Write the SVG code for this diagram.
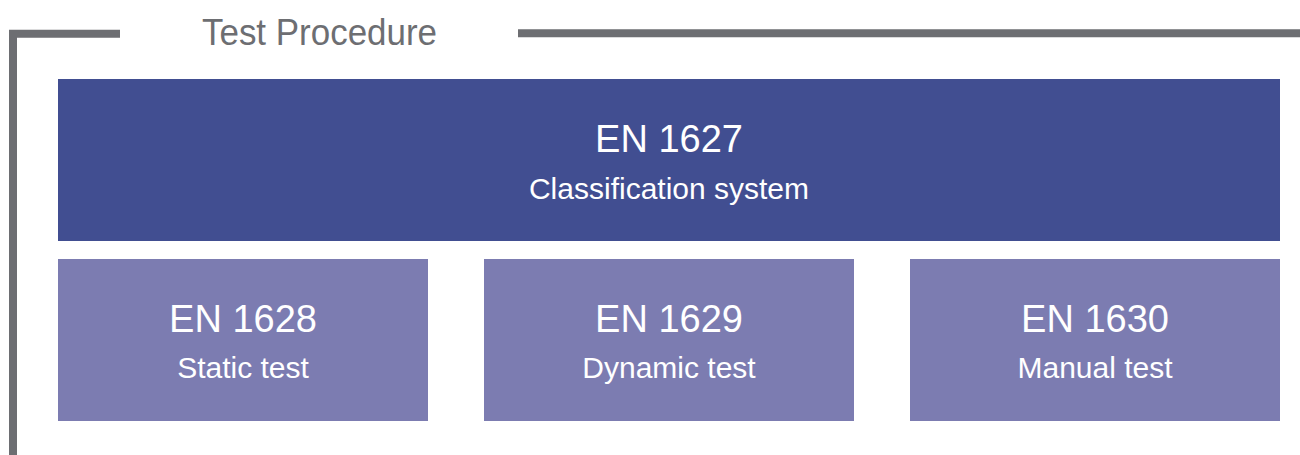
<svg xmlns="http://www.w3.org/2000/svg" width="1300" height="455" viewBox="0 0 1300 455">
  <style>
    .frame { fill: none; stroke: #6D6E72; stroke-width: 8; stroke-linejoin: miter; stroke-linecap: butt; }
    .main { fill: #414E91; }
    .sub { fill: #7C7CB1; }
    .t { font-family: "Liberation Sans", Arial, sans-serif; fill: #FFFFFF; text-anchor: middle; }
    .big { font-size: 38px; }
    .small { font-size: 30px; }
    .title { font-family: "Liberation Sans", Arial, sans-serif; font-size: 37px; fill: #6D6E72; }
  </style>
  <rect width="1300" height="455" fill="#FFFFFF"/>
  <g id="frame">
    <path class="frame" d="M13,455 V33.7 H120"/>
    <path class="frame" d="M518,33.2 H1300"/>
    <text class="title" x="202" y="45" textLength="235" lengthAdjust="spacingAndGlyphs">Test Procedure</text>
  </g>
  <g id="en1627">
    <rect class="main" x="58" y="79" width="1222" height="162"/>
    <text class="t big" x="669" y="152">EN 1627</text>
    <text class="t small" x="669" y="199">Classification system</text>
  </g>
  <g id="en1628">
    <rect class="sub" x="58" y="259" width="370" height="162"/>
    <text class="t big" x="243" y="332">EN 1628</text>
    <text class="t small" x="243" y="378">Static test</text>
  </g>
  <g id="en1629">
    <rect class="sub" x="484" y="259" width="370" height="162"/>
    <text class="t big" x="669" y="332">EN 1629</text>
    <text class="t small" x="669" y="378">Dynamic test</text>
  </g>
  <g id="en1630">
    <rect class="sub" x="910" y="259" width="370" height="162"/>
    <text class="t big" x="1095" y="332">EN 1630</text>
    <text class="t small" x="1095" y="378">Manual test</text>
  </g>
</svg>
